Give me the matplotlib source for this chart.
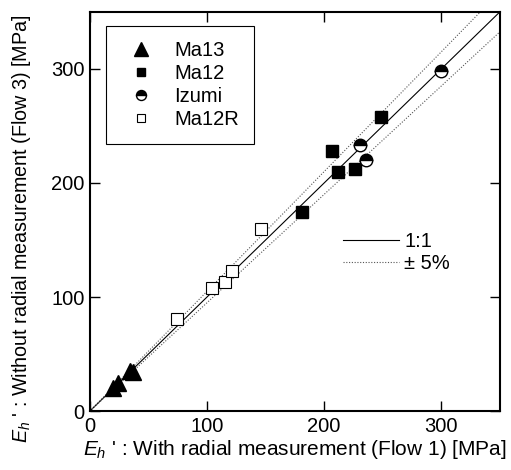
import numpy as np
import matplotlib
matplotlib.use("Agg")
from matplotlib import pyplot as plt
from matplotlib.lines import Line2D

plt.rcParams['font.family'] = ['Liberation Sans', 'DejaVu Sans']
plt.rcParams['mathtext.fontset'] = 'custom'
plt.rcParams['mathtext.rm'] = 'Liberation Sans'
plt.rcParams['mathtext.it'] = 'Liberation Sans:italic'

# Donnees
ma13_x = [20, 24, 34, 37]
ma13_y = [20, 25, 35, 34]
ma12_x = [181, 207, 212, 226, 249]
ma12_y = [175, 228, 210, 212, 258]
izumi_x = [231, 236, 300]
izumi_y = [233, 220, 298]
ma12r_x = [74, 104, 115, 121, 146]
ma12r_y = [81, 108, 113, 123, 160]
ticks = [0, 100, 200, 300]
lim = 350
tol = 0.05

fs = 14.5
fig = plt.figure(figsize=(5.11, 4.70), dpi=100)
ax = fig.add_axes([0.176, 0.1255, 0.802, 0.849])

# Droites 1:1 et +/-5%
xx = np.array([0, lim])
ax.plot(xx, xx, color='black', lw=0.8)
ax.plot(xx, xx * (1 + tol), color='#555555', lw=0.8, ls=(0, (1, 1.5)))
ax.plot(xx, xx * (1 - tol), color='#555555', lw=0.8, ls=(0, (1, 1.5)))

# Points
h1, = ax.plot(ma13_x, ma13_y, '^', color='black', ms=12, ls='none')
h2, = ax.plot(ma12_x, ma12_y, 's', color='black', ms=8, ls='none')
h3, = ax.plot(izumi_x, izumi_y, 'o', ms=9, ls='none', fillstyle='top',
              markerfacecolor='black', markerfacecoloralt='white',
              markeredgecolor='black', markeredgewidth=1)
h4, = ax.plot(ma12r_x, ma12r_y, 's', ms=8, ls='none', markerfacecolor='white',
              markeredgecolor='black', markeredgewidth=0.8)

ax.set_xlim(0, lim)
ax.set_ylim(0, lim)
ax.set_xticks(ticks)
ax.set_yticks(ticks)
ax.tick_params(direction='in', length=7, width=1, labelsize=fs,
               top=True, right=True, pad=4)
for s in ax.spines.values():
    s.set_linewidth(1.5)

ax.set_xlabel("$E_h$ ' : With radial measurement (Flow 1) [MPa]", fontsize=15, labelpad=2)
ax.set_ylabel("$E_h$ ' : Without radial measurement (Flow 3) [MPa]", fontsize=14.2)
ax.yaxis.set_label_coords(-0.139, 0.456)

leg1 = ax.legend([h1, h2, h3, h4], ['Ma13', 'Ma12', 'Izumi', 'Ma12R'],
                 loc='upper left', bbox_to_anchor=(0.039, 0.965),
                 borderaxespad=0, fontsize=fs, fancybox=False, framealpha=1,
                 edgecolor='black', labelspacing=0.2, handletextpad=0.65,
                 borderpad=0.75, markerscale=0.8)
leg1.get_frame().set_linewidth(0.8)
ax.add_artist(leg1)

l1 = Line2D([], [], color='black', lw=0.8)
l2 = Line2D([], [], color='#555555', lw=0.8, ls=(0, (1, 1.5)))
ax.legend([l1, l2], ['1:1', '± 5%'], loc='upper left',
          bbox_to_anchor=(0.573, 0.493), frameon=False, fontsize=fs,
          handlelength=2.8, handletextpad=0.25, labelspacing=0.15)

fig.savefig("out.png", dpi=100)
